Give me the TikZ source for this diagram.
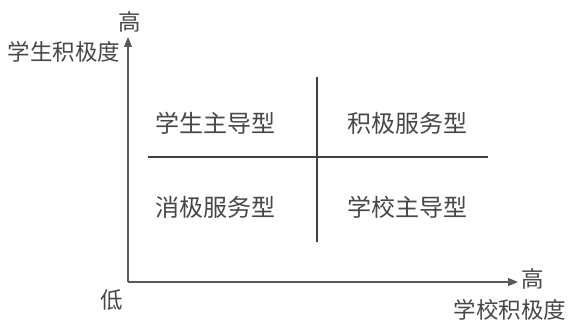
\documentclass[tikz,border=0pt]{standalone}
\usepackage{fontspec}
\newfontfamily\cjk{Noto Sans CJK SC}
\usetikzlibrary{arrows.meta}

\begin{document}
\begin{tikzpicture}[x=1pt, y=-1pt, font=\cjk\fontsize{22.5}{26}\selectfont, text=black!72,
	axis/.style={draw=black!65, line width=1.1pt, -{Triangle[length=10pt, width=8pt]}},
	divider/.style={draw=black!75, line width=1.1pt},
	quad/.style={font=\cjk\fontsize{24}{28}\selectfont}]
	\useasboundingbox (0,0) rectangle (572,321);
	% axes
	\coordinate (O) at (128,282);
	\coordinate (ytip) at (128,37);
	\coordinate (xtip) at (518,282);
	\node (yhigh) at (130,22) {高};
	\node (ylabel) at (64,52) {学生积极度};
	\node (low) at (112,300) {低};
	\node (xhigh) at (533,279) {高};
	\node (xlabel) at (510,310) {学校积极度};
	\draw[axis] (O) -- (ytip);
	\draw[axis] (O) -- (xtip);
	% quadrants
	\coordinate (vtop) at (317,77);
	\coordinate (vbot) at (317,242);
	\coordinate (hleft) at (148,157);
	\coordinate (hright) at (488,157);
	\draw[divider] (vtop) -- (vbot);
	\draw[divider] (hleft) -- (hright);
	\node[quad] (stulead) at (215,123) {学生主导型};
	\node[quad] (active) at (407,123) {积极服务型};
	\node[quad] (passive) at (215,207) {消极服务型};
	\node[quad] (schlead) at (407,207) {学校主导型};
\end{tikzpicture}
\end{document}
